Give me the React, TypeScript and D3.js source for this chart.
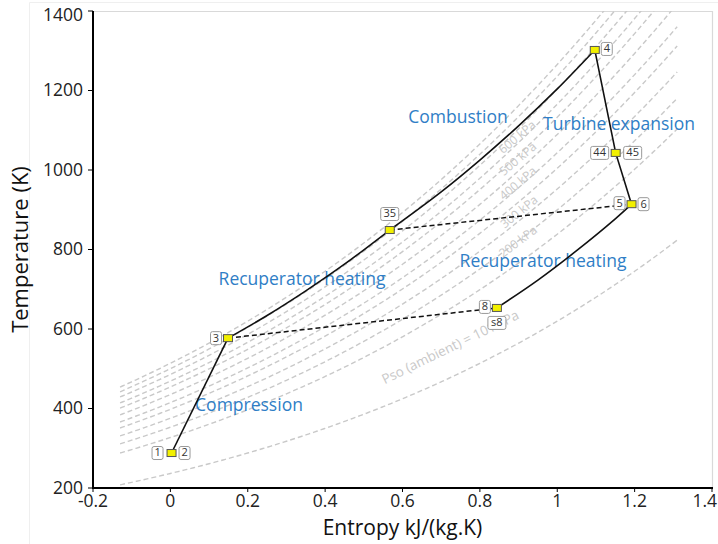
import React from 'react';
import * as d3 from 'd3';

// ---- data -------------------------------------------------------------
const xTicks = [-0.2, 0, 0.2, 0.4, 0.6, 0.8, 1, 1.2, 1.4];
const yTicks = [200, 400, 600, 800, 1000, 1200, 1400];

// cycle stations: entropy kJ/(kg.K), temperature K
const stationIds = ['1', '2', '3', '35', '4', '44', '45', '5', '6', '8', 's8'];
const stationS = [0.003, 0.003, 0.149, 0.567, 1.097, 1.151, 1.151, 1.192, 1.192, 0.844, 0.844];
const stationT = [288, 288, 577, 849, 1302, 1043, 1043, 914, 914, 653, 653];

// process paths
const compressionS = [0.003, 0.149];
const compressionT = [288, 577];
const recupColdS = [0.149, 0.25, 0.35, 0.45, 0.567];
const recupColdT = [577, 634, 696, 763, 849];
const combustionS = [0.567, 0.7, 0.8, 0.9, 1.0, 1.097];
const combustionT = [849, 945, 1025, 1111, 1204, 1302];
const turbineS = [1.097, 1.151, 1.192];
const turbineT = [1302, 1043, 914];
const recupHotS = [1.192, 1.15, 1.05, 0.95, 0.844];
const recupHotT = [914, 877, 797, 723, 653];
// heat exchange links (dashed)
const linkFrom = ['3', '35'];
const linkTo = ['8', '5'];

// isobars: temperature at the left end of each line (s = -0.13)
const isobarStartT = [208, 288, 311, 331, 351, 366, 384, 401, 414, 429, 442, 454];
const isobarSRange = [-0.13, 1.31];
const isobarLabels = ['Pso (ambient) = 101 kPa', '200 kPa', '300 kPa', '400 kPa', '500 kPa', '600 kPa'];

const processLabels = ['Combustion', 'Turbine expansion', 'Recuperator heating', 'Recuperator heating', 'Compression'];

// ---- layout -----------------------------------------------------------
const W = 718;
const H = 544;
const plot = { left: 93, right: 712, top: 11, bottom: 488 };

const x = d3.scaleLinear().domain([-0.2, 1.4]).range([plot.left, plot.right]);
const y = d3.scaleLinear().domain([200, 1400]).range([plot.bottom, plot.top]);

const FONT = '"Open Sans", "Liberation Sans", sans-serif';
const BLUE = '#2F7EC6';

// air: cp(T) = A + B*T  ->  s-function phi(T) = A ln T + B T
const A = 0.974;
const B = 0.000162;
const phi = (T: number) => A * Math.log(T) + B * T;
function tempAt(target: number, guess: number) {
  let T = guess;
  for (let i = 0; i < 30; i++) {
    const f = phi(T) - target;
    T -= f / (A / T + B);
  }
  return T;
}
function isobarPoints(T0: number): [number, number][] {
  const pts: [number, number][] = [];
  const base = phi(T0);
  const n = 144;
  let T = T0;
  for (let i = 0; i <= n; i++) {
    const s = isobarSRange[0] + ((isobarSRange[1] - isobarSRange[0]) * i) / n;
    T = tempAt(base + (s - isobarSRange[0]), T);
    pts.push([s, T]);
  }
  return pts;
}

const zip = (s: number[], t: number[]) => s.map((v, i) => [v, t[i]] as [number, number]);
const smooth = d3
  .line<[number, number]>()
  .x((d) => x(d[0]))
  .y((d) => y(d[1]))
  .curve(d3.curveCatmullRom.alpha(0.5));
const straight = d3
  .line<[number, number]>()
  .x((d) => x(d[0]))
  .y((d) => y(d[1]));

const station = (id: string) => {
  const i = stationIds.indexOf(id);
  return [stationS[i], stationT[i]] as [number, number];
};

// label boxes next to station markers: [dx, dy] of box centre from marker
const boxOffset: Record<string, [number, number]> = {
  '1': [-14, 0],
  '2': [13, 0],
  '3': [-12, 0],
  '35': [0, -16],
  '4': [12, -1],
  '44': [-16, 0],
  '45': [17, 0],
  '5': [-12, -1],
  '6': [12, 0],
  '8': [-12, -1],
  's8': [0, 15],
};

// isobar label anchors (data space), rotation, size
const isobarLabelPos: [number, number, number, number][] = [
  [0.725, 552, -26, 13.5],
  [0.9, 818, -37, 12],
  [0.903, 893, -39, 12],
  [0.9, 965, -40, 12],
  [0.9, 1026, -40, 12],
  [0.898, 1081, -40, 12],
];

const processLabelPos: [number, number][] = [
  [458, 118],
  [619, 125],
  [302, 280],
  [543, 262],
  [249, 406],
];

function Box({ cx, cy, text }: { cx: number; cy: number; text: string }) {
  const w = text.length > 1 ? 18 : 11;
  const h = 13;
  return (
    <g>
      <rect
        x={cx - w / 2}
        y={cy - h / 2}
        width={w}
        height={h}
        rx={2}
        fill="#fff"
        stroke="#9a9a9a"
        strokeWidth={1}
      />
      <text
        x={cx}
        y={cy + 0.5}
        textAnchor="middle"
        dominantBaseline="middle"
        fontSize={11}
        fill="#333"
        fontFamily={FONT}
      >
        {text}
      </text>
    </g>
  );
}

export default function App() {
  const markerIds = ['1', '3', '35', '4', '44', '5', '8'];
  return (
    <svg
      width={W}
      height={H}
      style={{ position: 'absolute', left: 0, top: 0, background: '#fff' }}
      fontFamily={FONT}
    >
      <defs>
        <clipPath id="plotClip">
          <rect x={plot.left} y={plot.top} width={plot.right - plot.left} height={plot.bottom - plot.top} />
        </clipPath>
      </defs>
      <rect x={0} y={0} width={W} height={H} fill="#fff" />
      {/* outer chart frame */}
      <path d={`M29.5,${H} V2.5 H${W}`} fill="none" stroke="#efefef" strokeWidth={1} />

      {/* plot frame (top and right) */}
      <path
        d={`M${plot.left},${plot.top + 0.5} H${plot.right + 0.5} V${plot.bottom}`}
        fill="none"
        stroke="#d9d9d9"
        strokeWidth={1.2}
      />

      {/* isobars */}
      <g clipPath="url(#plotClip)">
        {isobarStartT.map((T0, i) => (
          <path
            key={i}
            d={smooth(isobarPoints(T0)) || ''}
            fill="none"
            stroke="#c9c9c9"
            strokeWidth={1.4}
            strokeDasharray="5,3"
          />
        ))}
      </g>

      {/* isobar labels */}
      {isobarLabels.map((t, i) => {
        const [s, T, r, fs] = isobarLabelPos[i];
        return (
          <text
            key={t}
            x={x(s)}
            y={y(T)}
            transform={`rotate(${r},${x(s)},${y(T)})`}
            textAnchor="middle"
            dominantBaseline="middle"
            fontSize={fs}
            fill="#c8c8c8"
          >
            {t}
          </text>
        );
      })}

      {/* process labels */}
      {processLabels.map((t, i) => (
        <text
          key={i}
          x={processLabelPos[i][0]}
          y={processLabelPos[i][1]}
          textAnchor="middle"
          dominantBaseline="middle"
          fontSize={17.5}
          fill={BLUE}
        >
          {t}
        </text>
      ))}

      {/* recuperator links */}
      {linkFrom.map((a, i) => (
        <path
          key={a}
          d={straight([station(a), station(linkTo[i])]) || ''}
          fill="none"
          stroke="#111"
          strokeWidth={1.5}
          strokeDasharray="5,3"
        />
      ))}

      {/* cycle */}
      <path d={straight(zip(compressionS, compressionT)) || ''} fill="none" stroke="#111" strokeWidth={1.6} />
      <path d={smooth(zip(recupColdS, recupColdT)) || ''} fill="none" stroke="#111" strokeWidth={1.6} />
      <path d={smooth(zip(combustionS, combustionT)) || ''} fill="none" stroke="#111" strokeWidth={1.6} />
      <path d={straight(zip(turbineS, turbineT)) || ''} fill="none" stroke="#111" strokeWidth={1.6} />
      <path d={smooth(zip(recupHotS, recupHotT)) || ''} fill="none" stroke="#111" strokeWidth={1.6} />

      {/* station markers */}
      {markerIds.map((id) => {
        const [s, T] = station(id);
        return (
          <rect
            key={id}
            x={x(s) - 4.5}
            y={y(T) - 3.5}
            width={9}
            height={7}
            fill="#f2f000"
            stroke="#555"
            strokeWidth={1}
          />
        );
      })}

      {/* station labels */}
      {stationIds.map((id) => {
        const [s, T] = station(id);
        const [dx, dy] = boxOffset[id];
        return <Box key={id} cx={x(s) + dx} cy={y(T) + dy} text={id} />;
      })}

      {/* axes */}
      <line x1={plot.left} x2={plot.left} y1={plot.top} y2={plot.bottom + 1} stroke="#000" strokeWidth={2} />
      <line x1={plot.left - 1} x2={plot.right + 1} y1={plot.bottom} y2={plot.bottom} stroke="#000" strokeWidth={2.2} />
      {yTicks.map((t, i) => {
        const topmost = i === yTicks.length - 1;
        return (
          <g key={t}>
            <line x1={plot.left - 5} x2={plot.left} y1={y(t)} y2={y(t)} stroke="#000" strokeWidth={1} />
            <text
              x={plot.left - 10}
              y={topmost ? y(t) + 5 : y(t) + 1}
              textAnchor="end"
              dominantBaseline="middle"
              fontSize={17.5}
              fill="#222"
            >
              {t}
            </text>
          </g>
        );
      })}
      {xTicks.map((t, i) => {
        const last = i === xTicks.length - 1;
        return (
          <g key={t}>
            <line x1={x(t)} x2={x(t)} y1={plot.bottom} y2={plot.bottom + 4} stroke="#000" strokeWidth={1} />
            <text
              x={last ? W - 1 : x(t)}
              y={plot.bottom + 14}
              textAnchor={last ? 'end' : 'middle'}
              dominantBaseline="middle"
              fontSize={17.5}
              fill="#222"
            >
              {String(t)}
            </text>
          </g>
        );
      })}

      <text
        x={(plot.left + plot.right) / 2}
        y={529}
        textAnchor="middle"
        dominantBaseline="middle"
        fontSize={21}
        fill="#111"
      >
        Entropy kJ/(kg.K)
      </text>
      <text
        transform={`translate(22,${(plot.top + plot.bottom) / 2}) rotate(-90)`}
        textAnchor="middle"
        dominantBaseline="middle"
        fontSize={22}
        fill="#111"
      >
        Temperature (K)
      </text>
    </svg>
  );
}
